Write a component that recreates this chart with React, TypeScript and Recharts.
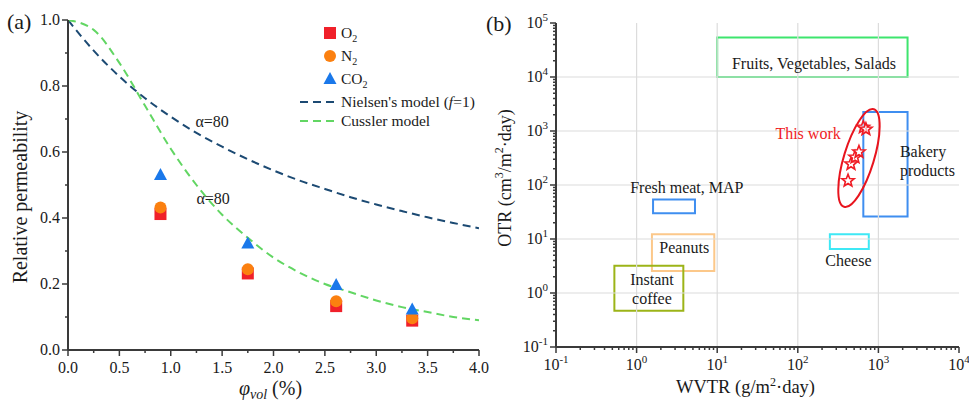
import React from 'react';
import {
  ComposedChart,
  Scatter,
  Line,
  XAxis,
  YAxis,
  ReferenceArea,
  ReferenceLine,
  Legend,
} from 'recharts';

const FONT = '"Liberation Serif", "Times New Roman", serif';
const AXIS = '#3a3a3a';
const INK = '#1a1a1a';

// ---- panel (a): relative permeability vs loading
const phiMajor = [0, 0.5, 1, 1.5, 2, 2.5, 3, 3.5, 4];
const phiMinor = [0.25, 0.75, 1.25, 1.75, 2.25, 2.75, 3.25, 3.75];
const relMajor = [0, 0.2, 0.4, 0.6, 0.8, 1.0];
const relMinor = [0.1, 0.3, 0.5, 0.7, 0.9];

const loading = [0.9, 1.75, 2.61, 3.35];
const o2 = [0.412, 0.232, 0.133, 0.089];
const n2 = [0.432, 0.245, 0.148, 0.096];
const co2 = [0.53, 0.323, 0.197, 0.123];

const modelPhi = [0, 0.25, 0.5, 0.75, 1, 1.25, 1.5, 1.75, 2, 2.25, 2.5, 2.75, 3, 3.25, 3.5, 3.75, 4];
const nielsen = [1.0, 0.907, 0.829, 0.763, 0.707, 0.658, 0.616, 0.578, 0.544, 0.514, 0.488, 0.463, 0.441, 0.421, 0.402, 0.385, 0.369];
const cussler = [1.0, 0.97, 0.87, 0.74, 0.61, 0.5, 0.41, 0.34, 0.28, 0.235, 0.2, 0.175, 0.15, 0.13, 0.115, 0.1, 0.09];

const alphaNotes = [
  { x: 1.24, y: 0.676, text: 'α=80' },
  { x: 1.25, y: 0.442, text: 'α=80' },
];

// ---- panel (b): OTR vs WVTR
const wvtrMajor = [0.1, 1, 10, 100, 1000, 10000];
const otrMajor = [0.1, 1, 10, 100, 1000, 10000, 100000];

const thisWorkWvtr = [420, 457, 513, 574, 650, 700];
const thisWorkOtr = [120, 245, 326, 408, 1170, 1080];

const foodBoxes = [
  { name: 'Fruits', x1: 10, x2: 2300, y1: 10000, y2: 54000, color: '#3ee56e' },
  { name: 'Bakery', x1: 650, x2: 2300, y1: 26, y2: 2250, color: '#3f8ef0' },
  { name: 'Meat', x1: 1.6, x2: 5.3, y1: 30, y2: 54, color: '#3f8ef0' },
  { name: 'Peanuts', x1: 1.55, x2: 9.2, y1: 2.55, y2: 12.2, color: '#fcc88a' },
  { name: 'Coffee', x1: 0.53, x2: 3.8, y1: 0.47, y2: 3.2, color: '#9cb418' },
  { name: 'Cheese', x1: 250, x2: 760, y1: 6.5, y2: 12.2, color: '#3ee8f5' },
];

const foodLabels = [
  { x: 159, y: 14000, lines: ['Fruits, Vegetables, Salads'], anchor: 'middle', color: INK },
  { x: 1850, y: 330, lines: ['Bakery', 'products'], anchor: 'start', color: INK },
  { x: 4.2, y: 71, lines: ['Fresh meat, MAP'], anchor: 'middle', color: INK },
  { x: 3.9, y: 5.5, lines: ['Peanuts'], anchor: 'middle', color: INK },
  { x: 1.55, y: 1.41, lines: ['Instant', 'coffee'], anchor: 'middle', color: INK },
  { x: 425, y: 3.16, lines: ['Cheese'], anchor: 'middle', color: INK },
  { x: 134, y: 711, lines: ['This work'], anchor: 'middle', color: '#f01c24' },
];

const workEllipse = [{ x: 574, y: 316 }];

const logMinor = (lo: number, hi: number) => {
  const out: number[] = [];
  for (let k = lo; k < hi; k++) {
    for (let m = 2; m <= 9; m++) out.push(Number((m * Math.pow(10, k)).toPrecision(3)));
  }
  return out;
};

const isIn = (list: number[], v: number) => list.some(m => Math.abs(m - v) < 1e-9 * Math.max(1, Math.abs(m)));

function BottomTick(props: any) {
  const { x, y, payload, majors, log } = props;
  const v = payload.value;
  const major = isIn(majors, v);
  return (
    <g>
      <line x1={x} x2={x} y1={y} y2={y + (major ? 6 : 3)} stroke={AXIS} strokeWidth={1.5} />
      {major && (
        <text x={x} y={y + 23} textAnchor="middle" fontFamily={FONT} fontSize={16} fill={INK}>
          {log ? (
            <>
              10<tspan dy={-7} fontSize={11}>{Math.round(Math.log10(v))}</tspan>
            </>
          ) : (
            v.toFixed(1)
          )}
        </text>
      )}
    </g>
  );
}

function LeftTick(props: any) {
  const { x, y, payload, majors, log } = props;
  const v = payload.value;
  const major = isIn(majors, v);
  return (
    <g>
      <line x1={x} x2={x - (major ? 6 : 3)} y1={y} y2={y} stroke={AXIS} strokeWidth={1.5} />
      {major && (
        <text x={x - 8} y={y + 5} textAnchor="end" fontFamily={FONT} fontSize={16} fill={INK}>
          {log ? (
            <>
              10<tspan dy={-7} fontSize={11}>{Math.round(Math.log10(v))}</tspan>
            </>
          ) : (
            v.toFixed(1)
          )}
        </text>
      )}
    </g>
  );
}

function StarShape(props: any) {
  const { cx, cy } = props;
  const pts: string[] = [];
  for (let i = 0; i < 10; i++) {
    const r = i % 2 === 0 ? 6.5 : 2.8;
    const a = -Math.PI / 2 + (i * Math.PI) / 5;
    pts.push(`${cx + r * Math.cos(a)},${cy + r * Math.sin(a)}`);
  }
  return <polygon points={pts.join(' ')} fill="#fff" fillOpacity={0.6} stroke="#f01c24" strokeWidth={1.6} />;
}

function NoteText(props: any) {
  const { cx, cy, payload } = props;
  return (
    <text x={cx} y={cy} textAnchor={payload.anchor} fontFamily={FONT} fontSize={16} fill={payload.color}>
      {payload.lines.map((l: string, i: number) => (
        <tspan key={i} x={cx} dy={i === 0 ? 0 : 19}>
          {l}
        </tspan>
      ))}
    </text>
  );
}

function PermLegend() {
  const text = { fontFamily: FONT, fontSize: 15.5, fill: INK };
  return (
    <svg width={190} height={115}>
      <rect x={29} y={5} width={12} height={12} fill="#f0202a" />
      <text x={46} y={16} {...text}>O<tspan dy={4} fontSize={10}>2</tspan></text>
      <circle cx={35} cy={34} r={6} fill="#fb8010" />
      <text x={46} y={39} {...text}>N<tspan dy={4} fontSize={10}>2</tspan></text>
      <polygon points="35,50 41.5,62 28.5,62" fill="#1a78ea" />
      <text x={46} y={62} {...text}>CO<tspan dy={4} fontSize={10}>2</tspan></text>
      <line x1={5} x2={42} y1={80} y2={80} stroke="#1c4a73" strokeWidth={2} strokeDasharray="8 5" />
      <text x={46} y={85} {...text}>
        Nielsen's model (<tspan fontStyle="italic">f</tspan>=1)
      </text>
      <line x1={5} x2={42} y1={99} y2={99} stroke="#62d663" strokeWidth={2} strokeDasharray="8 5" />
      <text x={46} y={104} {...text}>Cussler model</text>
    </svg>
  );
}

function PanelA() {
  const pts = (ys: number[]) => loading.map((x, i) => ({ x, y: ys[i] }));
  const curve = (ys: number[]) => modelPhi.map((x, i) => ({ x, y: ys[i] }));
  return (
    <ComposedChart width={490} height={401} margin={{ top: 20, right: 11, bottom: 0, left: 0 }}>
      <XAxis
        type="number"
        dataKey="x"
        domain={[0, 4]}
        ticks={[...phiMajor, ...phiMinor].sort((a, b) => a - b)}
        interval={0}
        tickSize={0}
        tickMargin={0}
        tickLine={false}
        tick={<BottomTick majors={phiMajor} />}
        height={51}
        axisLine={{ stroke: AXIS, strokeWidth: 2 }}
        allowDataOverflow
        label={{
          content: (p: any) => {
            const vb = p.viewBox;
            return (
              <text x={vb.x + vb.width / 2 - 3} y={vb.y + 45} textAnchor="middle" fontFamily={FONT} fontSize={20} fill={INK}>
                <tspan fontStyle="italic">φ</tspan>
                <tspan fontStyle="italic" fontSize={14} dy={4}>vol</tspan>
                <tspan dy={-4}> (%)</tspan>
              </text>
            );
          },
        }}
      />
      <XAxis xAxisId="top" orientation="top" type="number" domain={[0, 4]} height={0} tick={false} tickLine={false} axisLine={{ stroke: AXIS, strokeWidth: 2 }} />
      <YAxis
        type="number"
        dataKey="y"
        domain={[0, 1]}
        ticks={[...relMajor, ...relMinor].sort((a, b) => a - b)}
        interval={0}
        tickSize={0}
        tickMargin={0}
        tickLine={false}
        tick={<LeftTick majors={relMajor} />}
        width={68}
        axisLine={{ stroke: AXIS, strokeWidth: 2 }}
        allowDataOverflow
        label={{
          content: () => {
            const cx = 22;
            const cy = 197;
            return (
              <text x={cx} y={cy} transform={`rotate(-90, ${cx}, ${cy})`} textAnchor="middle" dominantBaseline="middle" fontFamily={FONT} fontSize={20} fill={INK}>
                Relative permeability
              </text>
            );
          },
        }}
      />
      <YAxis yAxisId="right" orientation="right" type="number" domain={[0, 1]} width={0} tick={false} tickLine={false} axisLine={{ stroke: AXIS, strokeWidth: 2 }} />
      <Line data={curve(nielsen)} dataKey="y" type="monotone" stroke="#1c4a73" strokeWidth={2} strokeDasharray="8 5" dot={false} isAnimationActive={false} />
      <Line data={curve(cussler)} dataKey="y" type="monotone" stroke="#62d663" strokeWidth={2} strokeDasharray="8 5" dot={false} isAnimationActive={false} />
      <Scatter
        data={pts(o2)}
        isAnimationActive={false}
        shape={(p: any) => <rect x={p.cx - 6} y={p.cy - 6} width={12} height={12} fill="#f0202a" />}
      />
      <Scatter data={pts(n2)} isAnimationActive={false} shape={(p: any) => <circle cx={p.cx} cy={p.cy} r={6} fill="#fb8010" />} />
      <Scatter
        data={pts(co2)}
        isAnimationActive={false}
        shape={(p: any) => <polygon points={`${p.cx},${p.cy - 7} ${p.cx + 6.5},${p.cy + 5} ${p.cx - 6.5},${p.cy + 5}`} fill="#1a78ea" />}
      />
      <Scatter
        data={alphaNotes}
        isAnimationActive={false}
        shape={(p: any) => (
          <text x={p.cx} y={p.cy} fontFamily={FONT} fontSize={16} fill={INK}>
            {p.payload.text}
          </text>
        )}
      />
      <Legend
        layout="vertical"
        align="center"
        verticalAlign="middle"
        content={() => <PermLegend />}
        wrapperStyle={{ left: 295, top: 22, width: 190, height: 115 }}
      />
    </ComposedChart>
  );
}

function PanelB() {
  const stars = thisWorkWvtr.map((x, i) => ({ x, y: thisWorkOtr[i] }));
  const xAll = [...wvtrMajor, ...logMinor(-1, 4)].sort((a, b) => a - b);
  const yAll = [...otrMajor, ...logMinor(-1, 5)].sort((a, b) => a - b);
  return (
    <ComposedChart width={489} height={401} margin={{ top: 23, right: 10, bottom: 0, left: 0 }}>
      <XAxis
        type="number"
        dataKey="x"
        scale="log"
        domain={[0.1, 10000]}
        ticks={xAll}
        interval={0}
        tickSize={0}
        tickMargin={0}
        tickLine={false}
        tick={<BottomTick majors={wvtrMajor} log />}
        height={54}
        axisLine={{ stroke: AXIS, strokeWidth: 2 }}
        allowDataOverflow
        label={{
          content: (p: any) => {
            const vb = p.viewBox;
            return (
              <text x={vb.x + vb.width / 2 - 12} y={vb.y + 46} textAnchor="middle" fontFamily={FONT} fontSize={18.5} fill={INK}>
                WVTR (g/m<tspan dy={-7} fontSize={12}>2</tspan>
                <tspan dy={7}>·day)</tspan>
              </text>
            );
          },
        }}
      />
      <XAxis xAxisId="top" orientation="top" type="number" scale="log" domain={[0.1, 10000]} height={0} tick={false} tickLine={false} axisLine={{ stroke: AXIS, strokeWidth: 2 }} />
      <YAxis
        type="number"
        dataKey="y"
        scale="log"
        domain={[0.1, 100000]}
        ticks={yAll}
        interval={0}
        tickSize={0}
        tickMargin={0}
        tickLine={false}
        tick={<LeftTick majors={otrMajor} log />}
        width={76}
        axisLine={{ stroke: AXIS, strokeWidth: 2 }}
        allowDataOverflow
        label={{
          content: () => {
            const cx = 27;
            const cy = 178;
            return (
              <text x={cx} y={cy} transform={`rotate(-90, ${cx}, ${cy})`} textAnchor="middle" dominantBaseline="middle" fontFamily={FONT} fontSize={18} fill={INK}>
                OTR (cm<tspan dy={-7} fontSize={12}>3</tspan>
                <tspan dy={7}>/m</tspan>
                <tspan dy={-7} fontSize={12}>2</tspan>
                <tspan dy={7}>·day)</tspan>
              </text>
            );
          },
        }}
      />
      <YAxis yAxisId="right" orientation="right" type="number" scale="log" domain={[0.1, 100000]} width={0} tick={false} tickLine={false} axisLine={{ stroke: AXIS, strokeWidth: 2 }} />
      {wvtrMajor.slice(1, -1).map(v => (
        <ReferenceLine key={`gx${v}`} x={v} stroke="#dcdcdc" strokeWidth={1.2} />
      ))}
      {otrMajor.slice(1, -1).map(v => (
        <ReferenceLine key={`gy${v}`} y={v} stroke="#dcdcdc" strokeWidth={1.2} />
      ))}
      {foodBoxes.map(b => (
        <ReferenceArea key={b.name} x1={b.x1} x2={b.x2} y1={b.y1} y2={b.y2} fill="none" fillOpacity={0} stroke={b.color} strokeWidth={2} />
      ))}
      <Scatter
        data={workEllipse}
        isAnimationActive={false}
        shape={(p: any) => (
          <ellipse cx={p.cx} cy={p.cy} rx={51} ry={15} transform={`rotate(-73, ${p.cx}, ${p.cy})`} fill="none" stroke="#e8141e" strokeWidth={2} />
        )}
      />
      <Scatter data={stars} isAnimationActive={false} shape={<StarShape />} />
      <Scatter data={foodLabels} isAnimationActive={false} shape={<NoteText />} />
    </ComposedChart>
  );
}

export default function App() {
  const tag = { position: 'absolute' as const, fontFamily: FONT, fontSize: 22, color: INK, lineHeight: '22px' };
  return (
    <div style={{ position: 'absolute', left: 0, top: 0, width: 969, height: 401, background: '#fff' }}>
      <div style={{ position: 'absolute', left: 0, top: 0 }}>
        <PanelA />
      </div>
      <div style={{ position: 'absolute', left: 480, top: 0 }}>
        <PanelB />
      </div>
      <div style={{ ...tag, left: 7, top: 11 }}>(a)</div>
      <div style={{ ...tag, left: 486, top: 13 }}>(b)</div>
    </div>
  );
}
